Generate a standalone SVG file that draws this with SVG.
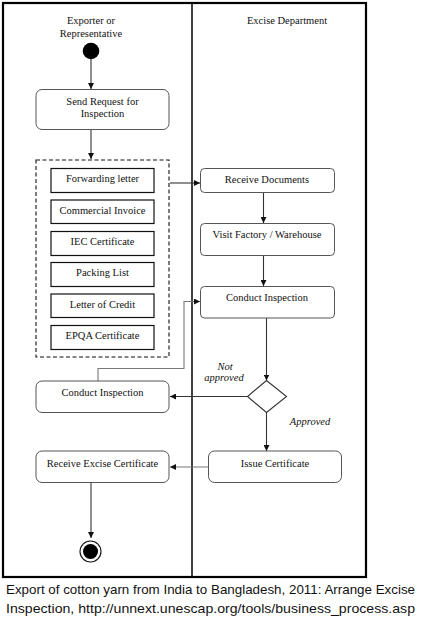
<svg xmlns="http://www.w3.org/2000/svg" width="424" height="618" viewBox="0 0 424 618">
<style>
.t{font-family:"Liberation Serif","Times New Roman",serif;font-size:10.5px;fill:#111;text-anchor:middle}
.i{font-style:italic}
.box{fill:#fff;stroke:#555;stroke-width:1}
.doc{fill:#fff;stroke:#111;stroke-width:1.2}
.c{fill:none;stroke:#333;stroke-width:1.1}
.g{fill:none;stroke:#777;stroke-width:1.1}
.cap{font-family:"Liberation Sans",Arial,sans-serif;font-size:13.5px;fill:#111}
</style>
<defs>
<marker id="a" viewBox="0 0 8 8" refX="8" refY="4" markerWidth="6" markerHeight="6" markerUnits="userSpaceOnUse" orient="auto">
<path d="M0,0 L8,4 L0,8 Z" fill="#111"/>
</marker>
</defs>
<rect x="3" y="3" width="363" height="574" fill="#fff" stroke="#000" stroke-width="2.2"/>
<line x1="192" y1="3" x2="192" y2="577" stroke="#111" stroke-width="1.6"/>
<g id="lane-exporter"><text class="t" x="91" y="24">Exporter or</text><text class="t" x="91" y="37">Representative</text></g>
<g id="lane-excise"><text class="t" x="287" y="24">Excise Department</text></g>
<g id="connectors">
<path class="c" d="M91,59 V89" marker-end="url(#a)"/>
<path class="c" d="M91,130 V159" marker-end="url(#a)"/>
<path class="c" d="M170,183 H200" marker-end="url(#a)"/>
<path class="c" d="M263.5,192 V223" marker-end="url(#a)"/>
<path class="c" d="M263.5,255 V286" marker-end="url(#a)"/>
<path class="g" d="M98,381 V368.5 H184 V301.5 H200" marker-end="url(#a)"/>
<path class="c" d="M266.5,318 V380.5" marker-end="url(#a)"/>
<path class="c" d="M247.5,396.5 H170" marker-end="url(#a)"/>
<path class="c" d="M266.5,412.5 V451" marker-end="url(#a)"/>
<path class="g" d="M208,467 H170" marker-end="url(#a)"/>
<path class="c" d="M91,483 V538" marker-end="url(#a)"/>
</g>
<g id="start"><circle cx="91" cy="51" r="8.3" fill="#000"/></g>
<g id="send-request"><rect class="box" x="36" y="89.5" width="133" height="40" rx="6"/><text class="t" x="102.5" y="105">Send Request for</text><text class="t" x="102.5" y="117">Inspection</text></g>
<g id="documents">
<rect x="36" y="160" width="133" height="197" fill="none" stroke="#111" stroke-width="1.1" stroke-dasharray="4,2.5"/>
<rect class="doc" x="51" y="168.5" width="103" height="24"/><text class="t" x="102.5" y="182">Forwarding letter</text>
<rect class="doc" x="51" y="200" width="103" height="23.5"/><text class="t" x="102.5" y="213.5">Commercial Invoice</text>
<rect class="doc" x="51" y="231.5" width="103" height="24"/><text class="t" x="102.5" y="245">IEC Certificate</text>
<rect class="doc" x="51" y="262.5" width="103" height="24"/><text class="t" x="102.5" y="276">Packing List</text>
<rect class="doc" x="51" y="294" width="103" height="23.5"/><text class="t" x="102.5" y="307.5">Letter of Credit</text>
<rect class="doc" x="51" y="325.5" width="103" height="24"/><text class="t" x="102.5" y="339">EPQA Certificate</text>
</g>
<g id="receive-documents"><rect class="box" x="200.5" y="168.5" width="134" height="24" rx="4"/><text class="t" x="267" y="183">Receive Documents</text></g>
<g id="visit-factory"><rect class="box" x="200.5" y="223.5" width="134" height="32" rx="4"/><text class="t" x="267" y="238">Visit Factory / Warehouse</text></g>
<g id="conduct-inspection-excise"><rect class="box" x="200.5" y="286.5" width="134" height="31.5" rx="4"/><text class="t" x="267" y="301">Conduct Inspection</text></g>
<g id="decision"><polygon points="266.5,380.5 286.5,396.5 266.5,412.5 247.5,396.5" fill="#fff" stroke="#333" stroke-width="1.1"/></g>
<g id="label-not-approved"><text class="t i" x="225" y="370">Not</text><text class="t i" x="224" y="381">approved</text></g>
<g id="label-approved"><text class="t i" x="310" y="425">Approved</text></g>
<g id="conduct-inspection-exporter"><rect class="box" x="36" y="381" width="133" height="31.5" rx="6"/><text class="t" x="102.5" y="395.5">Conduct Inspection</text></g>
<g id="issue-certificate"><rect class="box" x="208.5" y="451" width="133" height="31.5" rx="6"/><text class="t" x="275" y="466.5">Issue Certificate</text></g>
<g id="receive-excise-certificate"><rect class="box" x="36" y="451" width="133" height="31.5" rx="6"/><text class="t" x="102.5" y="466.5">Receive Excise Certificate</text></g>
<g id="end"><circle cx="90.5" cy="551.5" r="10.5" fill="#fff" stroke="#111" stroke-width="1.1"/><circle cx="90.5" cy="551.5" r="7.5" fill="#000"/></g>
<text class="cap" x="6" y="594" textLength="409" lengthAdjust="spacingAndGlyphs">Export of cotton yarn from India to Bangladesh, 2011: Arrange Excise</text>
<text class="cap" x="6" y="612.5" textLength="409" lengthAdjust="spacingAndGlyphs">Inspection, http://unnext.unescap.org/tools/business_process.asp</text>
</svg>
